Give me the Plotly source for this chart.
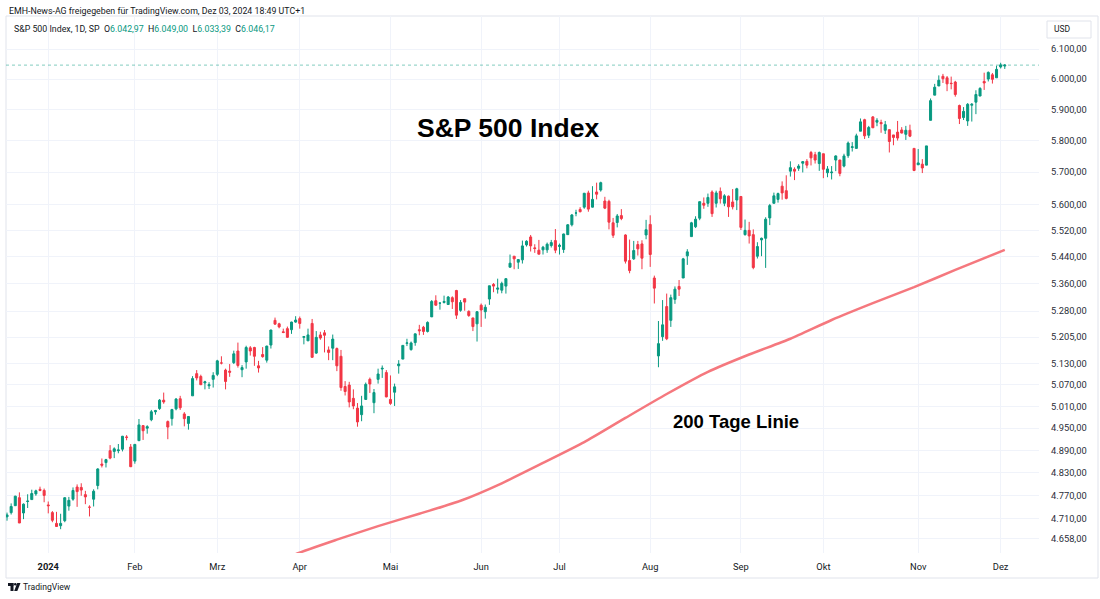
import math
import plotly.graph_objects as go

# ---------------- data ----------------
month_days = [
    ("2023-12", [15, 18, 19, 20, 21, 22, 26, 27, 28, 29]),
    ("2024-01", [2, 3, 4, 5, 8, 9, 10, 11, 12, 16, 17, 18, 19, 22, 23, 24, 25, 26, 29, 30, 31]),
    ("2024-02", [1, 2, 5, 6, 7, 8, 9, 12, 13, 14, 15, 16, 20, 21, 22, 23, 26, 27, 28, 29]),
    ("2024-03", [1, 4, 5, 6, 7, 8, 11, 12, 13, 14, 15, 18, 19, 20, 21, 22, 25, 26, 27, 28]),
    ("2024-04", [1, 2, 3, 4, 5, 8, 9, 10, 11, 12, 15, 16, 17, 18, 19, 22, 23, 24, 25, 26, 29, 30]),
    ("2024-05", [1, 2, 3, 6, 7, 8, 9, 10, 13, 14, 15, 16, 17, 20, 21, 22, 23, 24, 28, 29, 30, 31]),
    ("2024-06", [3, 4, 5, 6, 7, 10, 11, 12, 13, 14, 17, 18, 20, 21, 24, 25, 26, 27, 28]),
    ("2024-07", [1, 2, 3, 5, 8, 9, 10, 11, 12, 15, 16, 17, 18, 19, 22, 23, 24, 25, 26, 29, 30, 31]),
    ("2024-08", [1, 2, 5, 6, 7, 8, 9, 12, 13, 14, 15, 16, 19, 20, 21, 22, 23, 26, 27, 28, 29, 30]),
    ("2024-09", [3, 4, 5, 6, 9, 10, 11, 12, 13, 16, 17, 18, 19, 20, 23, 24, 25, 26, 27, 30]),
    ("2024-10", [1, 2, 3, 4, 7, 8, 9, 10, 11, 14, 15, 16, 17, 18, 21, 22, 23, 24, 25, 28, 29, 30, 31]),
    ("2024-11", [1, 4, 5, 6, 7, 8, 11, 12, 13, 14, 15, 18, 19, 20, 21, 22, 25, 26, 27, 29]),
    ("2024-12", [2, 3]),
]
dates = [f"{m}-{d:02d}" for m, days in month_days for d in days]

opens = [
    4714, 4725, 4743, 4764, 4724, 4754, 4759, 4774, 4786, 4783,
    4745, 4725, 4697, 4691, 4704, 4742, 4760, 4792, 4791, 4772, 4739, 4760, 4796, 4853, 4857, 4889, 4887, 4889, 4893, 4926, 4899,
    4861, 4916, 4957, 4950, 4973, 4995, 5004, 5027, 4968, 4976, 5003, 5031, 4989, 4963, 5039, 5101, 5093, 5075, 5067, 5085,
    5099, 5131, 5111, 5108, 5132, 5165, 5112, 5134, 5174, 5175, 5123, 5155, 5139, 5182, 5253, 5243, 5220, 5229, 5226, 5248,
    5258, 5204, 5194, 5244, 5159, 5211, 5217, 5168, 5173, 5172, 5150, 5065, 5069, 5032, 5005, 4987, 5029, 5085, 5020, 5085, 5114, 5104,
    5029, 5049, 5123, 5142, 5187, 5169, 5189, 5226, 5233, 5221, 5263, 5310, 5303, 5305, 5299, 5319, 5340, 5282, 5316, 5279, 5260, 5243,
    5297, 5278, 5315, 5358, 5344, 5341, 5353, 5409, 5442, 5424, 5431, 5476, 5500, 5467, 5460, 5461, 5461, 5474, 5489,
    5471, 5462, 5507, 5537, 5573, 5584, 5591, 5635, 5591, 5638, 5644, 5610, 5609, 5543, 5544, 5565, 5506, 5429, 5434, 5477, 5479, 5506,
    5538, 5377, 5151, 5206, 5293, 5253, 5314, 5352, 5377, 5443, 5501, 5531, 5557, 5603, 5603, 5638, 5603, 5640, 5603, 5625, 5607, 5613,
    5624, 5507, 5520, 5507, 5442, 5491, 5496, 5558, 5603, 5615, 5656, 5642, 5703, 5709, 5712, 5728, 5734, 5762, 5755, 5727,
    5758, 5698, 5698, 5738, 5738, 5719, 5752, 5778, 5775, 5830, 5867, 5817, 5876, 5859, 5858, 5833, 5835, 5818, 5827, 5834, 5820, 5833, 5775,
    5723, 5725, 5722, 5865, 5947, 5977, 6009, 6004, 5986, 5990, 5913, 5874, 5863, 5914, 5924, 5944, 5992, 6000, 6014, 6004,
    6040, 6042.97,
]
highs = [
    4725, 4749, 4769, 4778, 4749, 4773, 4785, 4785, 4793, 4788,
    4754, 4729, 4727, 4722, 4765, 4766, 4791, 4799, 4802, 4782, 4744, 4786, 4842, 4868, 4867, 4904, 4898, 4907, 4929, 4931, 4907,
    4907, 4975, 4957, 4958, 5000, 5000, 5030, 5048, 4971, 5003, 5033, 5039, 4994, 4983, 5094, 5111, 5098, 5081, 5077, 5105,
    5140, 5150, 5115, 5128, 5166, 5189, 5125, 5180, 5179, 5177, 5137, 5176, 5180, 5226, 5261, 5246, 5229, 5235, 5249, 5265,
    5264, 5208, 5229, 5257, 5222, 5220, 5225, 5178, 5212, 5175, 5168, 5080, 5078, 5057, 5019, 5039, 5076, 5090, 5058, 5115, 5124, 5111,
    5096, 5073, 5139, 5181, 5200, 5192, 5215, 5240, 5237, 5250, 5312, 5326, 5305, 5325, 5324, 5323, 5342, 5312, 5316, 5282, 5260, 5280,
    5302, 5299, 5354, 5362, 5375, 5366, 5376, 5447, 5442, 5432, 5489, 5490, 5506, 5478, 5491, 5473, 5483, 5491, 5524,
    5480, 5510, 5539, 5570, 5583, 5591, 5635, 5642, 5656, 5667, 5670, 5623, 5614, 5558, 5570, 5585, 5508, 5492, 5488, 5488, 5490, 5552,
    5566, 5384, 5251, 5312, 5331, 5328, 5352, 5371, 5437, 5463, 5546, 5563, 5608, 5621, 5633, 5643, 5642, 5652, 5631, 5627, 5647, 5651,
    5624, 5553, 5546, 5523, 5484, 5498, 5560, 5601, 5636, 5636, 5671, 5690, 5734, 5715, 5725, 5735, 5741, 5767, 5764, 5765,
    5758, 5719, 5719, 5753, 5739, 5758, 5797, 5795, 5822, 5871, 5870, 5847, 5879, 5872, 5867, 5863, 5835, 5818, 5863, 5843, 5847, 5851, 5775,
    5773, 5741, 5783, 5936, 5984, 6012, 6017, 6010, 6008, 5994, 5916, 5908, 5921, 5921, 5963, 5973, 6021, 6025, 6020, 6044,
    6054, 6049.00,
]
lows = [
    4704, 4720, 4743, 4698, 4708, 4737, 4759, 4769, 4781, 4752,
    4723, 4700, 4688, 4682, 4700, 4730, 4756, 4740, 4769, 4747, 4715, 4741, 4786, 4844, 4844, 4866, 4869, 4882, 4887, 4917, 4845,
    4854, 4915, 4918, 4935, 4969, 4987, 5000, 5017, 4920, 4957, 4999, 5000, 4955, 4946, 5039, 5082, 5069, 5057, 5058, 5062,
    5094, 5127, 5057, 5092, 5128, 5118, 5091, 5115, 5152, 5123, 5104, 5146, 5132, 5172, 5241, 5230, 5216, 5203, 5214, 5246,
    5229, 5184, 5194, 5146, 5157, 5197, 5161, 5139, 5139, 5108, 5053, 5040, 5007, 5002, 4954, 4969, 5028, 5047, 4991, 5073, 5089, 5035,
    5014, 5011, 5101, 5142, 5179, 5166, 5180, 5210, 5211, 5218, 5263, 5296, 5284, 5302, 5298, 5286, 5257, 5278, 5281, 5263, 5222, 5192,
    5234, 5258, 5298, 5335, 5331, 5332, 5331, 5409, 5403, 5404, 5420, 5471, 5456, 5452, 5448, 5447, 5452, 5468, 5451,
    5447, 5452, 5507, 5532, 5563, 5575, 5586, 5577, 5590, 5615, 5639, 5585, 5523, 5497, 5529, 5551, 5420, 5391, 5431, 5444, 5403, 5493,
    5410, 5302, 5119, 5194, 5196, 5234, 5301, 5324, 5377, 5416, 5501, 5527, 5551, 5586, 5592, 5561, 5590, 5602, 5594, 5561, 5584, 5582,
    5521, 5504, 5480, 5403, 5435, 5442, 5407, 5536, 5602, 5605, 5614, 5615, 5686, 5675, 5704, 5699, 5712, 5721, 5727, 5704,
    5681, 5684, 5677, 5703, 5687, 5715, 5745, 5765, 5775, 5830, 5805, 5808, 5840, 5846, 5825, 5821, 5762, 5785, 5800, 5823, 5802, 5811, 5703,
    5723, 5697, 5722, 5865, 5947, 5977, 5987, 5960, 5966, 5942, 5853, 5866, 5847, 5861, 5885, 5944, 5964, 5992, 5985, 6004,
    6035, 6033.39,
]
closes = [
    4719, 4741, 4768, 4698, 4747, 4755, 4775, 4782, 4783, 4770,
    4743, 4705, 4689, 4697, 4764, 4757, 4783, 4780, 4784, 4766, 4739, 4781, 4840, 4850, 4865, 4869, 4894, 4891, 4928, 4925, 4846,
    4906, 4959, 4943, 4954, 4995, 4998, 5027, 5022, 4953, 5001, 5030, 5006, 4976, 4982, 5087, 5089, 5070, 5078, 5070, 5096,
    5137, 5131, 5079, 5105, 5157, 5124, 5118, 5175, 5165, 5150, 5117, 5149, 5179, 5225, 5242, 5234, 5218, 5204, 5248, 5254,
    5244, 5206, 5211, 5147, 5204, 5202, 5210, 5161, 5199, 5123, 5062, 5051, 5022, 5011, 4967, 5011, 5071, 5072, 5048, 5100, 5116, 5036,
    5018, 5064, 5128, 5181, 5188, 5188, 5214, 5223, 5221, 5247, 5308, 5297, 5303, 5308, 5321, 5307, 5268, 5305, 5306, 5267, 5235, 5278,
    5283, 5291, 5354, 5353, 5347, 5361, 5375, 5421, 5434, 5432, 5473, 5487, 5473, 5465, 5448, 5469, 5478, 5483, 5460,
    5475, 5509, 5537, 5567, 5573, 5577, 5634, 5585, 5615, 5631, 5667, 5588, 5545, 5505, 5564, 5556, 5427, 5399, 5459, 5464, 5436, 5522,
    5447, 5347, 5186, 5240, 5200, 5319, 5344, 5344, 5434, 5455, 5543, 5554, 5608, 5597, 5621, 5571, 5635, 5617, 5626, 5592, 5592, 5648,
    5529, 5520, 5503, 5408, 5471, 5496, 5554, 5596, 5626, 5633, 5635, 5618, 5714, 5703, 5719, 5733, 5722, 5745, 5738, 5762,
    5709, 5710, 5700, 5751, 5696, 5751, 5792, 5780, 5815, 5860, 5815, 5842, 5841, 5865, 5854, 5851, 5797, 5810, 5808, 5824, 5833, 5814, 5705,
    5729, 5713, 5783, 5929, 5973, 5996, 6001, 5984, 5985, 5949, 5871, 5894, 5917, 5917, 5949, 5969, 5987, 6022, 5999, 6032,
    6047, 6046.17,
]

# 200-day moving average
ma_dates = ["2024-03-01", "2024-03-15", "2024-03-28", "2024-04-12", "2024-04-26", "2024-05-10",
            "2024-05-24", "2024-06-10", "2024-06-25", "2024-07-10", "2024-07-24", "2024-08-07",
            "2024-08-21", "2024-09-05", "2024-09-19", "2024-10-03", "2024-10-17", "2024-10-31",
            "2024-11-14", "2024-12-03"]
ma_values = [4525, 4575, 4618, 4655, 4690, 4722, 4756, 4802, 4856, 4912, 4978, 5044,
             5106, 5155, 5200, 5254, 5303, 5350, 5401, 5461]

price_ticks = [4658, 4710, 4770, 4830, 4890, 4950, 5010, 5070, 5130, 5205, 5280, 5360,
               5440, 5520, 5600, 5700, 5800, 5900, 6000, 6100]
month_tick_dates = ["2024-01-02", "2024-02-01", "2024-03-01", "2024-04-01", "2024-05-01", "2024-06-03",
                    "2024-07-01", "2024-08-01", "2024-09-03", "2024-10-01", "2024-11-01", "2024-12-02"]
month_tick_labels = ["<b>2024</b>", "Feb", "Mrz", "Apr", "Mai", "Jun", "Jul", "Aug", "Sep", "Okt", "Nov", "Dez"]

last_ohlc = (6042.97, 6049.00, 6033.39, 6046.17)

# ---------------- styling ----------------
UP = "#089981"
DOWN = "#F23645"
MA_COLOR = "#F5787E"
GRID = "#F0F3FA"
TEXT = "#131722"
FONT = "Roboto, Liberation Sans, Arial, sans-serif"

W, H = 1100, 599
PL, PR, PT, PB = 6, 1039, 16, 553
Y_TOP, Y_BOT = 6212.0, 4621.0


def de(v):
    s = f"{v:,.2f}"
    return s.replace(",", "X").replace(".", ",").replace("X", ".")


def px(x):
    return (x - PL) / (PR - PL)


def py(y):
    return (PB - y) / (PB - PT)


fig = go.Figure()
fig.add_trace(go.Candlestick(
    x=dates, open=opens, high=highs, low=lows, close=closes,
    increasing=dict(line=dict(color=UP, width=1), fillcolor=UP),
    decreasing=dict(line=dict(color=DOWN, width=1), fillcolor=DOWN),
    whiskerwidth=0, showlegend=False, hoverinfo="skip",
))
fig.add_trace(go.Scatter(
    x=ma_dates, y=ma_values, mode="lines",
    line=dict(color=MA_COLOR, width=2.5, shape="spline", smoothing=0.6),
    showlegend=False, hoverinfo="skip",
))

n = len(dates)
fig.update_xaxes(
    type="category", range=[-0.25, n + 7.3],
    tickvals=month_tick_dates, ticktext=month_tick_labels,
    showgrid=True, gridcolor=GRID, gridwidth=1,
    showline=False, zeroline=False, ticks="",
    tickfont=dict(family=FONT, size=9.3, color=TEXT),
    ticklabelstandoff=7,
    rangeslider=dict(visible=False), fixedrange=True,
)
fig.update_yaxes(
    type="log", side="right",
    range=[math.log10(Y_BOT), math.log10(Y_TOP)],
    tickvals=price_ticks, ticktext=[de(v) for v in price_ticks],
    showgrid=True, gridcolor=GRID, gridwidth=1,
    showline=False, zeroline=False, ticks="",
    tickfont=dict(family=FONT, size=9.3, color="#2a2e39"),
    ticklabelstandoff=11,
)

shapes = []
# panel frame
shapes.append(dict(type="rect", xref="paper", yref="paper",
                   x0=px(6), x1=px(1098), y0=py(578), y1=py(16),
                   line=dict(color="#E0E3EB", width=1), layer="below"))
# last price dotted line
shapes.append(dict(type="line", xref="paper", yref="y", x0=0, x1=1,
                   y0=closes[-1], y1=closes[-1],
                   line=dict(color="rgba(8,153,129,0.5)", width=1, dash="dot")))
# USD box
shapes.append(dict(type="rect", xref="paper", yref="paper",
                   x0=px(1047), x1=px(1091), y0=py(38), y1=py(21),
                   line=dict(color="#E0E3EB", width=1)))
# TradingView logo (approximation)
shapes += [
    dict(type="rect", xref="paper", yref="paper", x0=px(8), x1=px(13.5), y0=py(586), y1=py(583),
         fillcolor=TEXT, line=dict(width=0)),
    dict(type="rect", xref="paper", yref="paper", x0=px(10.5), x1=px(13.5), y0=py(591), y1=py(583),
         fillcolor=TEXT, line=dict(width=0)),
    dict(type="circle", xref="paper", yref="paper", x0=px(14), x1=px(16.6), y0=py(585.6), y1=py(583),
         fillcolor=TEXT, line=dict(width=0)),
    dict(type="path", xref="paper", yref="paper",
         path=f"M {px(17.2)} {py(583)} L {px(20.5)} {py(583)} L {px(17.3)} {py(591)} L {px(14.2)} {py(591)} Z",
         fillcolor=TEXT, line=dict(width=0)),
]

ann = []
ann.append(dict(xref="paper", yref="paper", x=px(7), y=py(11), xanchor="left", yanchor="middle",
                text="EMH-News-AG freigegeben für TradingView.com, Dez 03, 2024 18:49 UTC+1",
                showarrow=False, font=dict(family=FONT, size=8.8, color=TEXT)))
o, h, l, c = last_ohlc
g = lambda v: f"<span style='color:{UP}'>{de(v)}</span>"
ann.append(dict(xref="paper", yref="paper", x=px(12), y=py(29), xanchor="left", yanchor="middle",
                text=f"S&amp;P 500 Index, 1D, SP  O{g(o)}  H{g(h)}  L{g(l)}  C{g(c)}",
                showarrow=False, font=dict(family=FONT, size=8.8, color=TEXT)))
ann.append(dict(xref="paper", yref="paper", x=px(1052), y=py(29), xanchor="left", yanchor="middle",
                text="USD", showarrow=False, font=dict(family=FONT, size=8.5, color=TEXT)))
ann.append(dict(xref="paper", yref="paper", x=px(508), y=py(128), xanchor="center", yanchor="middle",
                text="<b>S&amp;P 500 Index</b>", showarrow=False,
                font=dict(family="Liberation Sans, Arial, sans-serif", size=26.5, color="#000000")))
ann.append(dict(xref="paper", yref="paper", x=px(736), y=py(421), xanchor="center", yanchor="middle",
                text="<b>200 Tage Linie</b>", showarrow=False,
                font=dict(family="Liberation Sans, Arial, sans-serif", size=18.5, color="#000000")))
ann.append(dict(xref="paper", yref="paper", x=px(21), y=py(587), xanchor="left", yanchor="middle",
                text="TradingView", showarrow=False, font=dict(family=FONT, size=8.6, color=TEXT)))

fig.update_layout(
    width=W, height=H,
    margin=dict(l=PL, r=W - PR, t=PT, b=H - PB, pad=0),
    paper_bgcolor="white", plot_bgcolor="white",
    shapes=shapes, annotations=ann,
    showlegend=False, dragmode=False,
    hovermode=False,
)

fig.write_html(
    "out.html",
    config={"displayModeBar": False},
    post_script="document.body.style.margin='0';document.body.style.padding='0';document.body.style.overflow='hidden';",
)
